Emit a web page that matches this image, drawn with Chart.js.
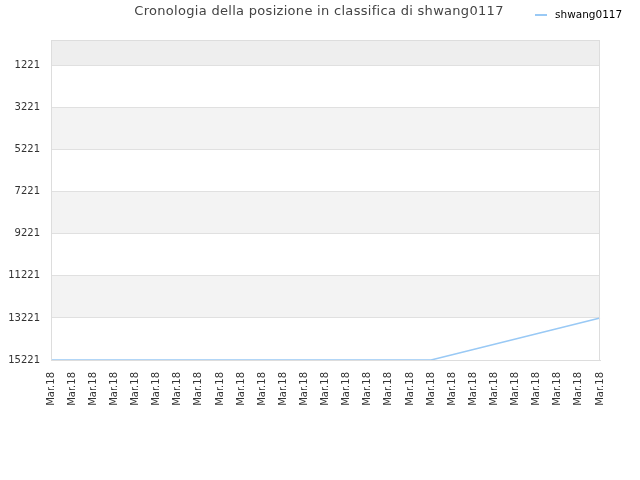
<!DOCTYPE html>
<html>
<head>
<meta charset="utf-8">
<script src="https://cdn.jsdelivr.net/npm/chart.js@4/dist/chart.umd.min.js"></script>
<style>
  body { margin: 0; background: #fff; }
</style>
</head>
<body>
<canvas id="myChart" width="640" height="480"></canvas>
<script>
const titleText = 'Cronologia della posizione in classifica di shwang0117';
const seriesName = 'shwang0117';

const labels = [
  'Mar.18', 'Mar.18', 'Mar.18', 'Mar.18', 'Mar.18', 'Mar.18', 'Mar.18',
  'Mar.18', 'Mar.18', 'Mar.18', 'Mar.18', 'Mar.18', 'Mar.18', 'Mar.18',
  'Mar.18', 'Mar.18', 'Mar.18', 'Mar.18', 'Mar.18', 'Mar.18', 'Mar.18',
  'Mar.18', 'Mar.18', 'Mar.18', 'Mar.18', 'Mar.18', 'Mar.18'
];

const ranks = [
  15221, 15221, 15221, 15221, 15221, 15221, 15221,
  15221, 15221, 15221, 15221, 15221, 15221, 15221,
  15221, 15221, 15221, 15221, 15221, 14971, 14721,
  14471, 14221, 13971, 13721, 13471, 13221
];

const yTicks = [1221, 3221, 5221, 7221, 9221, 11221, 13221, 15221];

const lineColor = '#99c9f5';

// grey / white bands between the rank ticks, plus the darker strip on top
const bands = {
  id: 'bands',
  beforeDraw(chart) {
    const { ctx, chartArea, scales: { y } } = chart;
    const edges = [0].concat(yTicks);
    ctx.save();
    for (let i = 0; i < edges.length - 1; i++) {
      let fill = null;
      if (i === 0) fill = '#eeeeee';
      else if (i % 2 === 0) fill = '#f3f3f3';
      if (!fill) continue;
      const y1 = y.getPixelForValue(edges[i]);
      const y2 = y.getPixelForValue(edges[i + 1]);
      ctx.fillStyle = fill;
      ctx.fillRect(chartArea.left, y1, chartArea.right - chartArea.left, y2 - y1);
    }
    ctx.restore();
  },
  afterDraw(chart) {
    const { ctx } = chart;
    ctx.save();
    ctx.fillStyle = '#444';
    ctx.font = '13px "DejaVu Sans"';
    ctx.letterSpacing = '0.3px';
    ctx.textAlign = 'center';
    ctx.textBaseline = 'middle';
    ctx.fillText(titleText, 319, 12);
    ctx.letterSpacing = '0px';

    ctx.strokeStyle = lineColor;
    ctx.lineWidth = 2;
    ctx.beginPath();
    ctx.moveTo(535, 15);
    ctx.lineTo(547, 15);
    ctx.stroke();
    ctx.fillStyle = '#000';
    ctx.font = '10.5px "DejaVu Sans"';
    ctx.textAlign = 'left';
    ctx.fillText(seriesName, 555, 15);
    ctx.restore();
  }
};

const ctx = document.getElementById('myChart').getContext('2d');
const chart = new Chart(ctx, {
  type: 'line',
  data: {
    labels: labels,
    datasets: [{
      label: seriesName,
      data: ranks,
      borderColor: lineColor,
      borderWidth: 1.5,
      pointRadius: 0,
      fill: false,
      tension: 0
    }]
  },
  options: {
    responsive: false,
    animation: false,
    layout: {
      padding: { top: 40, right: 40, left: 0, bottom: 0 }
    },
    plugins: {
      legend: { display: false },
      title: { display: false },
      tooltip: { enabled: false }
    },
    scales: {
      y: {
        reverse: true,
        min: 0,
        max: 15221,
        afterBuildTicks: (scale) => {
          scale.ticks = yTicks.map(v => ({ value: v }));
        },
        afterFit: (scale) => {
          scale.width = 51;
        },
        ticks: {
          color: '#333',
          padding: 11,
          font: { family: 'DejaVu Sans', size: 10 },
          callback: (value) => String(value)
        },
        grid: {
          color: '#e0e0e0',
          drawTicks: false
        },
        border: { color: '#dddddd' }
      },
      x: {
        offset: false,
        afterFit: (scale) => {
          scale.height = 120;
        },
        ticks: {
          color: '#333',
          minRotation: 90,
          maxRotation: 90,
          autoSkip: false,
          padding: 12,
          font: { family: 'DejaVu Sans', size: 10 }
        },
        grid: {
          display: false,
          drawTicks: false
        },
        border: { color: '#dddddd' }
      }
    }
  },
  plugins: [bands, {
    id: 'frame',
    afterDatasetsDraw(chart) {
      const { ctx, chartArea } = chart;
      ctx.save();
      ctx.strokeStyle = '#dddddd';
      ctx.lineWidth = 1;
      ctx.strokeRect(chartArea.left + 0.5, chartArea.top + 0.5,
        chartArea.right - chartArea.left - 1, chartArea.bottom - chartArea.top);
      ctx.restore();
    }
  }]
});
</script>
</body>
</html>
